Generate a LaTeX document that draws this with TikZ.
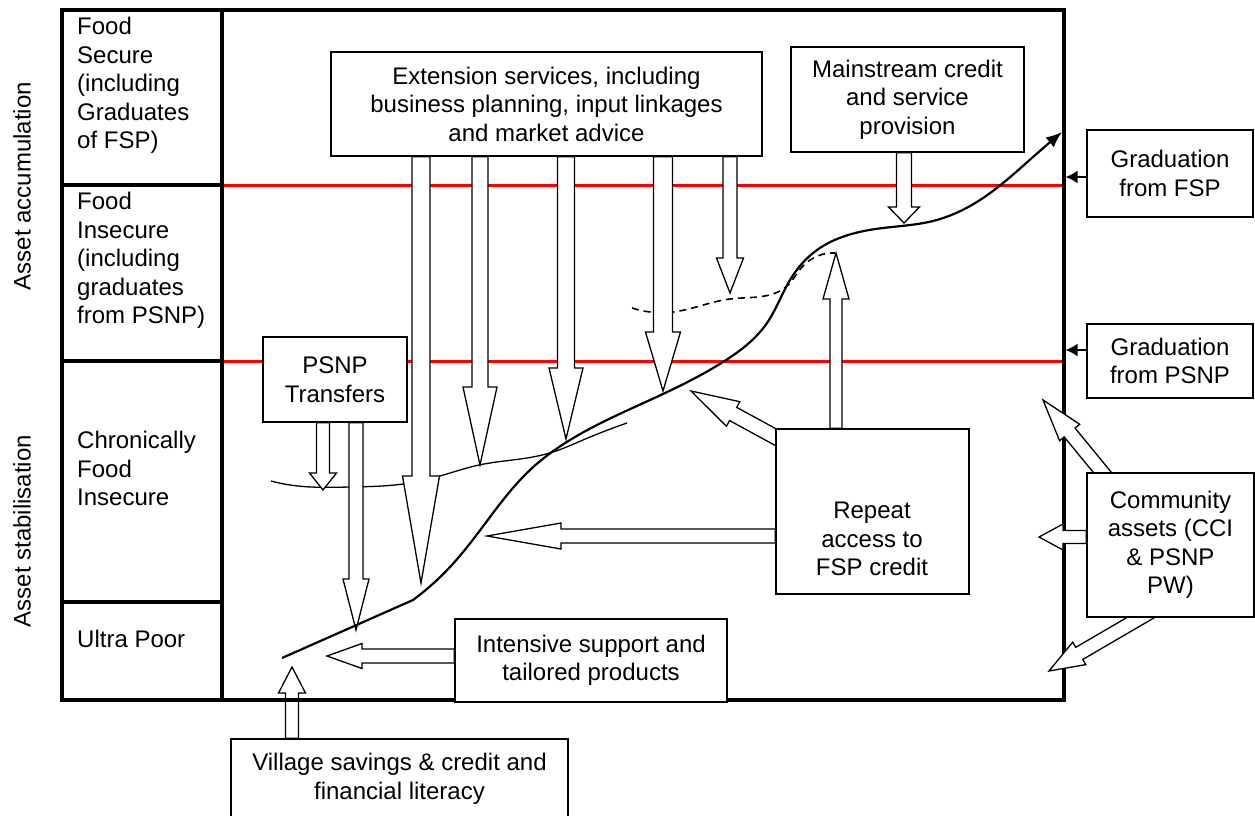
\documentclass[tikz,border=0pt]{standalone}
\usepackage{fontspec}
\setmainfont{Liberation Sans}
\usepackage{tikz}
\usetikzlibrary{arrows.meta, calc, hobby}
\usepackage{xcolor}
\definecolor{levelred}{RGB}{255,0,0}
\pgfdeclarelayer{back}
\pgfdeclarelayer{mid}
\pgfsetlayers{back,mid,main}
\tikzset{
  box/.style={draw, fill=white, line width=1.3pt, align=center, inner sep=0pt},
  lab/.style={align=left, inner sep=0pt, anchor=north west},
  blockarr/.style={draw, fill=white, line width=1.3pt, line join=miter},
  level/.style={draw=levelred, line width=3pt},
  framel/.style={line width=3.3pt},
  thinline/.style={line width=1.3pt},
  dashline/.style={line width=1.6pt, dash pattern=on 7pt off 5pt},
  maincurve/.style={line width=2.2pt, -{Latex[length=16pt,width=13pt]}},
  gradarr/.style={line width=1.4pt, -{Latex[length=12pt,width=13pt]}}
}
% block arrow: start, tip, shaft half width, head half width, head length
\newcommand{\blockarrow}[5]{
  \coordinate (ba-s) at (#1);
  \coordinate (ba-t) at (#2);
  \coordinate (ba-b) at ($(ba-t)!#5pt!(ba-s)$);
  \draw[blockarr] ($(ba-s)!#3pt!90:(ba-t)$) -- ($(ba-b)!#3pt!90:(ba-t)$)
    -- ($(ba-b)!#4pt!90:(ba-t)$) -- (ba-t)
    -- ($(ba-b)!#4pt!-90:(ba-t)$) -- ($(ba-b)!#3pt!-90:(ba-t)$)
    -- ($(ba-s)!#3pt!-90:(ba-t)$) -- cycle;
}
\begin{document}
\begin{tikzpicture}[x=1pt, y=-1pt, font=\fontsize{24}{28.5}\selectfont]
    \useasboundingbox (0,0) rectangle (1255,816);
    % Boxes
    \node[box, minimum width=431pt, minimum height=104pt] (ext) at (546.5,104) {Extension services, including\\business planning, input linkages\\and market advice};
    \node[box, minimum width=233pt, minimum height=105pt] (mainstream) at (907.5,99.5) {Mainstream credit\\and service\\provision};
    \node[box, minimum width=166pt, minimum height=87pt] (gradfsp) at (1170,173.5) {Graduation\\from FSP};
    \node[box, minimum width=166pt, minimum height=74pt] (gradpsnp) at (1170,361) {Graduation\\from PSNP};
    \node[box, minimum width=167pt, minimum height=144pt] (comm) at (1170.5,545) {Community\\assets (CCI\\\& PSNP\\PW)};
    \node[box, minimum width=193pt, minimum height=165pt] (repeat) at (872.5,511.5) {};
    \node[align=center, inner sep=0pt] (repeattxt) at (872,539) {Repeat\\access to\\FSP credit};
    \node[box, minimum width=144pt, minimum height=85pt] (psnp) at (335,379.5) {PSNP\\Transfers};
    \node[box, minimum width=272pt, minimum height=83pt] (intens) at (591,660.5) {Intensive support and\\tailored products};
    \node[box, minimum width=337pt, minimum height=80pt] (village) at (399.5,779) {Village savings \& credit and\\financial literacy};
    % Left column
    \node[lab] (fs) at (77,17) {Food\\Secure\\(including\\Graduates\\of FSP)};
    \node[lab] (fi) at (77,192) {Food\\Insecure\\(including\\graduates\\from PSNP)};
    \node[lab] (cfi) at (77,431) {Chronically\\Food\\Insecure};
    \node[lab] (ultra) at (77,630) {Ultra Poor};
    \node[rotate=90] (accum) at (22,186) {Asset accumulation};
    \node[rotate=90] (stab) at (22,531) {Asset stabilisation};
    % Arrow tips
    \coordinate (tA1) at (421,583);
    \coordinate (tA2) at (480,465);
    \coordinate (tA3) at (566,439);
    \coordinate (tA4) at (663,391);
    \coordinate (tA5) at (730,293);
    \coordinate (tMS) at (904,223);
    \coordinate (tP1) at (323,490);
    \coordinate (tP2) at (356,630);
    \coordinate (tRL) at (487,536);
    \coordinate (tRU) at (836,253);
    \coordinate (tRD) at (691,391);
    \coordinate (tIS) at (327,656);
    \coordinate (tVS) at (292,667);
    \coordinate (tCU) at (1043,400);
    \coordinate (tCL) at (1039,537);
    \coordinate (tCD) at (1049,671);
    % Livelli e cornice
    \begin{pgfonlayer}{back}
        \draw[level] (222,185) -- (1064,185);
        \draw[level] (222,361) -- (1064,361);
        \draw[thinline] (271,481) to[curve through={(290,485) .. (350,487) .. (403,484) .. (440,476) .. (479,465) .. (527,458) .. (553,452) .. (583,440)}] (627,423);
        \draw[dashline] (632,308) to[curve through={(673,312) .. (730,299) .. (787,286) .. (803,266)}] (835,253);
        \blockarrow{village.north -| tVS}{tVS}{6.5}{13.5}{26}
        \node[draw, line width=3.3pt, minimum width=1002pt, minimum height=690pt, inner sep=0pt] (frame) at (563,355) {};
        \draw[framel] (222,10) -- (222,700);
        \foreach \yy in {185,361,602} \draw[framel] (62,\yy) -- (222,\yy);
    \end{pgfonlayer}
    % Block arrows
    \begin{pgfonlayer}{mid}
        \blockarrow{ext.south -| tA1}{tA1}{9}{18.5}{107}
        \blockarrow{ext.south -| tA2}{tA2}{8}{17}{78}
        \blockarrow{ext.south -| tA3}{tA3}{8.5}{17}{71}
        \blockarrow{ext.south -| tA4}{tA4}{9.5}{17.5}{59}
        \blockarrow{ext.south -| tA5}{tA5}{7}{13.5}{35}
        \blockarrow{mainstream.south -| tMS}{tMS}{7.5}{15.5}{16}
        \blockarrow{psnp.south -| tP1}{tP1}{6.5}{13.5}{17}
        \blockarrow{psnp.south -| tP2}{tP2}{7}{13}{51}
        \blockarrow{repeat.west |- tRL}{tRL}{7}{13}{74}
        \blockarrow{repeat.north -| tRU}{tRU}{6}{13}{46}
        \blockarrow{[xshift=8pt,yshift=-13pt]repeat.north west}{tRD}{7.5}{14}{48}
        \blockarrow{intens.west |- tIS}{tIS}{7}{12.5}{35}
        \blockarrow{[xshift=-60pt,yshift=-10pt]comm.north}{tCU}{7}{13}{42}
        \blockarrow{[yshift=8pt]comm.west}{tCL}{6.5}{13}{24}
        \blockarrow{[xshift=-14.5pt,yshift=9pt]comm.south}{tCD}{7}{13}{35}
        % Curva principale
        \draw[maincurve] (282,658) -- (413,600) to[curve through={(450,567) .. (490,517) .. (530,470) .. (570,440) .. (650,400) .. (723,362) .. (767,323) .. (790,280) .. (817,250) .. (883,228) .. (933,221) .. (980,200) .. (1033,157)}] (1062,132);
    \end{pgfonlayer}
    % Graduation
    \coordinate (gF) at ([yshift=-3.5pt]gradfsp.west);
    \coordinate (gP) at ([yshift=11pt]gradpsnp.west);
    \draw[gradarr] (gF) -- (gF -| frame.east);
    \draw[gradarr] (gP) -- (gP -| frame.east);
\end{tikzpicture}
\end{document}
